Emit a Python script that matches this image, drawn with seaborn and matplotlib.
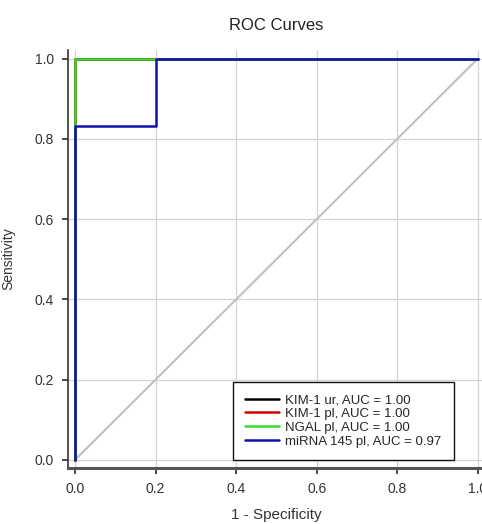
import pandas as pd
import matplotlib.pyplot as plt
import seaborn as sns

# ROC points
labels = ["KIM-1 ur, AUC = 1.00", "KIM-1 pl, AUC = 1.00",
          "NGAL pl, AUC = 1.00", "miRNA 145 pl, AUC = 0.97"]
colors = ["#000000", "#d00000", "#33dd33", "#1010b0"]
fpr_perfect = [0.0, 0.0, 1.0]
tpr_perfect = [0.0, 1.0, 1.0]
fpr_mirna = [0.0, 0.0, 0.2, 0.2, 1.0]
tpr_mirna = [0.0, 0.833, 0.833, 1.0, 1.0]
ticks = [0.0, 0.2, 0.4, 0.6, 0.8, 1.0]

rows = []
for lab in labels[:3]:
    for x, y in zip(fpr_perfect, tpr_perfect):
        rows.append({"curve": lab, "fpr": x, "tpr": y})
for x, y in zip(fpr_mirna, tpr_mirna):
    rows.append({"curve": labels[3], "fpr": x, "tpr": y})
df = pd.DataFrame(rows)

sns.set_theme(style="whitegrid")
plt.rcParams['font.family'] = ['Liberation Sans', 'DejaVu Sans']

fig = plt.figure(figsize=(4.82, 5.24), dpi=100)
ax = fig.add_axes([0.141, 0.107, 0.865, 0.798])

# chance diagonal
ax.plot([0, 1], [0, 1], color="#c0c0c0", lw=1.5, zorder=1)
for lab, c in zip(labels, colors):
    sub = df[df["curve"] == lab]
    sns.lineplot(x=sub["fpr"].values, y=sub["tpr"].values, sort=False,
                 estimator=None, color=c, lw=1.8, label=lab, ax=ax, zorder=3)

ax.set_xlim(-0.0175, 1.0175)
ax.set_ylim(-0.02, 1.022)
ax.set_xticks(ticks)
ax.set_yticks(ticks)
ax.set_xticklabels([f"{t:.1f}" for t in ticks])
ax.set_yticklabels([f"{t:.1f}" for t in ticks])
ax.grid(True, color="#d4d4d4", lw=0.9)
ax.tick_params(axis="both", labelsize=10, colors="#333333", length=4,
               direction="out", left=True, bottom=True, pad=6)
for side in ["top", "right"]:
    ax.spines[side].set_visible(False)
ax.spines["left"].set_color("#333333")
ax.spines["left"].set_linewidth(1.2)
ax.spines["bottom"].set_color("#555555")
ax.spines["bottom"].set_linewidth(2.2)

ax.set_xlabel("1 - Specificity", fontsize=11, color="#333333", labelpad=9)
ax.set_ylabel("Sensitivity", fontsize=10, color="#333333", labelpad=14)
ax.set_title("ROC Curves", fontsize=12, color="#222222", pad=14)

leg = ax.legend(loc="lower right", bbox_to_anchor=(0.925, 0.02), fontsize=9.5,
                frameon=True, fancybox=False, framealpha=1, borderpad=0.9,
                handlelength=2.6, labelspacing=0.12, handletextpad=0.5,
                borderaxespad=0)
leg.get_frame().set_edgecolor("#111111")
leg.get_frame().set_linewidth(1.0)

fig.savefig("out.png", dpi=100)
